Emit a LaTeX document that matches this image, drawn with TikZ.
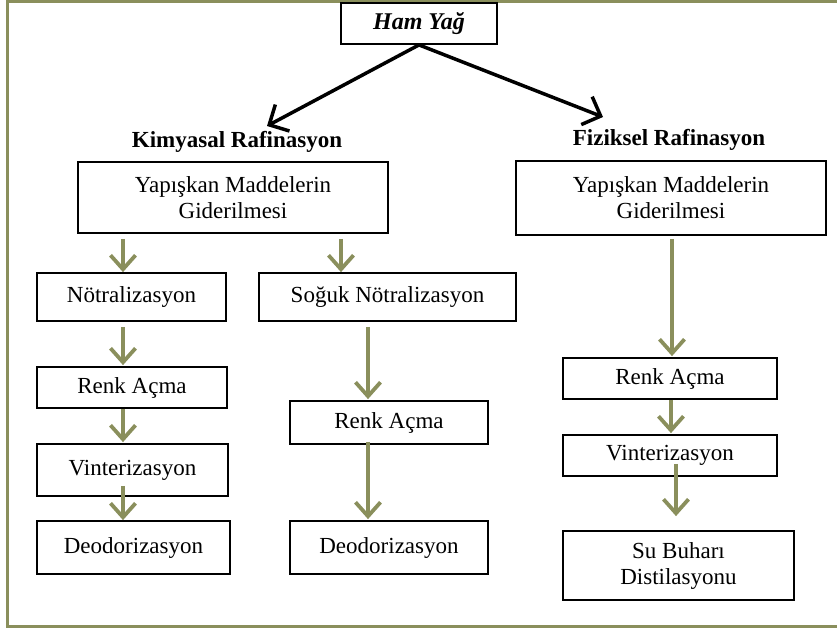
\documentclass[tikz,border=0pt]{standalone}
\usepackage{fontspec}
\setmainfont{Liberation Serif}
\usetikzlibrary{arrows.meta,calc}
\definecolor{olivebd}{RGB}{138,143,92}
\begin{document}
\begin{tikzpicture}[x=1pt,y=-1pt,
  box/.style={draw=black,line width=1.8pt,fill=white,align=center,
    font=\fontsize{23}{26}\selectfont,inner sep=0pt},
  garrow/.style={draw=olivebd,line width=3.8pt,line cap=butt,
    -{Straight Barb[length=14pt,width=25pt]}},
  karrow/.style={draw=black,line width=3.5pt,
    -{Straight Barb[length=15pt,width=30pt]}},
  headlbl/.style={font=\fontsize{23}{26}\selectfont\bfseries,inner sep=0pt}]
\useasboundingbox (0,0) rectangle (837,629);
\draw[olivebd,line width=3pt] (7.5,1.5) rectangle (840,626.5);

% top
\node[box,minimum width=156pt,minimum height=41pt,font=\fontsize{24}{26}\selectfont\bfseries\itshape] (ham) at (419,23.5) {Ham Yağ};
\node[headlbl] (kim) at (237,142) {Kimyasal Rafinasyon};
\node[headlbl] (fiz) at (669,140) {Fiziksel Rafinasyon};
\coordinate (kimtip) at (267,126);
\coordinate (fiztip) at (603,117);

\node[box,minimum width=310pt,minimum height=71pt] (yap1) at (233,197.5) {Yapışkan Maddelerin\\Giderilmesi};
\node[box,minimum width=310pt,minimum height=74pt] (yap2) at (671,198) {Yapışkan Maddelerin\\Giderilmesi};

% left column
\node[box,minimum width=189pt,minimum height=48pt] (not) at (131.5,297) {Nötralizasyon};
\node[box,minimum width=190pt,minimum height=41pt] (renk1) at (132,387.5) {Renk Açma};
\node[box,minimum width=191pt,minimum height=52pt] (vint1) at (132.5,470) {Vinterizasyon};
\node[box,minimum width=193pt,minimum height=53pt] (deo1) at (133.5,547.5) {Deodorizasyon};

% middle column
\node[box,minimum width=257pt,minimum height=48pt] (sog) at (387.5,297) {Soğuk Nötralizasyon};
\node[box,minimum width=198pt,minimum height=43pt] (renk2) at (389,422.5) {Renk Açma};
\node[box,minimum width=198pt,minimum height=53pt] (deo2) at (389,547.5) {Deodorizasyon};

% right column
\node[box,minimum width=214pt,minimum height=41pt] (renk3) at (670,378.5) {Renk Açma};
\node[box,minimum width=214pt,minimum height=41pt] (vint3) at (670,455.5) {Vinterizasyon};
\node[box,minimum width=231pt,minimum height=69pt] (su) at (678.5,565.5) {Su Buharı\\Distilasyonu};

% black arrows
\draw[karrow] (ham.south) -- (kimtip);
\draw[karrow] (ham.south) -- (fiztip);

% olive arrows
\draw[garrow] ($(yap1.south -| not.north)+(-8.5,5)$) -- ($(not.north)+(-8.5,0)$);
\draw[garrow] ($(not.south)+(-8.5,5)$) -- ($(renk1.north)+(-9,-1)$);
\draw[garrow] ($(renk1.south)+(-9,0)$) -- ($(vint1.north)+(-9.5,-1)$);
\draw[garrow] ($(vint1.south)+(-9.5,-11)$) -- ($(deo1.north)+(-10.5,0)$);

\draw[garrow] ($(yap1.south -| sog.north)+(-46.5,5)$) -- ($(sog.north)+(-46.5,0)$);
\draw[garrow] ($(sog.south)+(-19.5,5)$) -- ($(renk2.north)+(-21,-1)$);
\draw[garrow] ($(renk2.south)+(-21,-3)$) -- ($(deo2.north)+(-21,-1)$);

\draw[garrow] ($(yap2.south)+(1,3)$) -- ($(renk3.north)+(2,-1)$);
\draw[garrow] ($(renk3.south)+(1,0)$) -- ($(vint3.north)+(1,-1)$);
\draw[garrow] ($(vint3.south)+(6,-13)$) -- ($(su.north)+(-2.5,-14)$);
\end{tikzpicture}
\end{document}
